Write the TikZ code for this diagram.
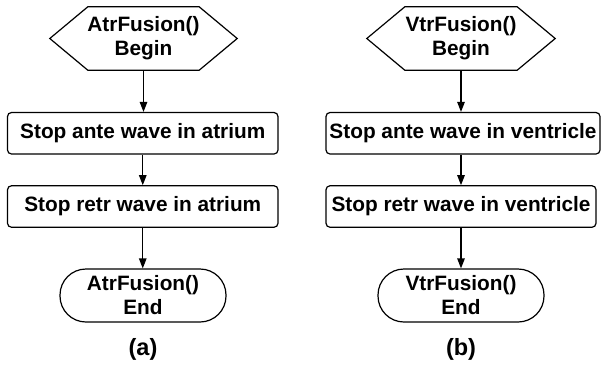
\documentclass[tikz,border=0pt]{standalone}
\usepackage{fontspec}
\setmainfont{Liberation Sans}
\usetikzlibrary{arrows.meta}
\begin{document}
\begin{tikzpicture}[x=1pt,y=-1pt,
  every node/.style={font=\fontsize{20.8}{24}\selectfont\bfseries, align=center, inner sep=0pt},
  lw/.style={line width=1.2pt},
  procbox/.style={draw, lw, rounded corners=4pt, minimum height=41.5pt},
  termbox/.style={draw, lw, rounded corners=26pt, minimum width=166pt, minimum height=53pt},
  hexbox/.style={minimum width=187pt, minimum height=63pt},
  arr/.style={lw, -{Triangle[length=10pt,width=7.5pt]}},
  caption/.style={font=\fontsize{23.5}{27}\selectfont\bfseries}]
\useasboundingbox (0,0) rectangle (601,368);
% left column
\node[hexbox] (hl) at (143.5,38.5) {AtrFusion()\\Begin};
\draw[lw] ([xshift=38pt]hl.north west) -- ([xshift=-38pt]hl.north east) -- (hl.east)
  -- ([xshift=-38pt]hl.south east) -- ([xshift=38pt]hl.south west) -- (hl.west) -- cycle;
\node[procbox, minimum width=270.5pt] (bl1) at (142.75,133.25) {Stop ante wave in atrium};
\node[procbox, minimum width=270.5pt] (bl2) at (142.75,206.5) {Stop retr wave in atrium};
\node[termbox] (el) at (143,295.5) {AtrFusion()\\End};
\node[caption] (ca) at (143,349) {(a)};
\draw[arr] (hl.south) -- (hl.south |- bl1.north);
\draw[arr] (bl1.south) -- (bl2.north);
\draw[arr] (bl2.south) -- (bl2.south |- el.north);
% right column
\node[hexbox, minimum width=188pt] (hr) at (461,38.5) {VtrFusion()\\Begin};
\draw[lw] ([xshift=38pt]hr.north west) -- ([xshift=-38pt]hr.north east) -- (hr.east)
  -- ([xshift=-38pt]hr.south east) -- ([xshift=38pt]hr.south west) -- (hr.west) -- cycle;
\node[procbox, minimum width=274pt] (br1) at (463,133.25) {Stop ante wave in ventricle};
\node[procbox, minimum width=270pt] (br2) at (461,206.5) {Stop retr wave in ventricle};
\node[termbox] (er) at (461,295.5) {VtrFusion()\\End};
\node[caption] (cb) at (461,349) {(b)};
\draw[arr] (hr.south) -- (hr.south |- br1.north);
\draw[arr] (hr.south |- br1.south) -- (hr.south |- br2.north);
\draw[arr] (hr.south |- br2.south) -- (hr.south |- er.north);
\end{tikzpicture}
\end{document}
